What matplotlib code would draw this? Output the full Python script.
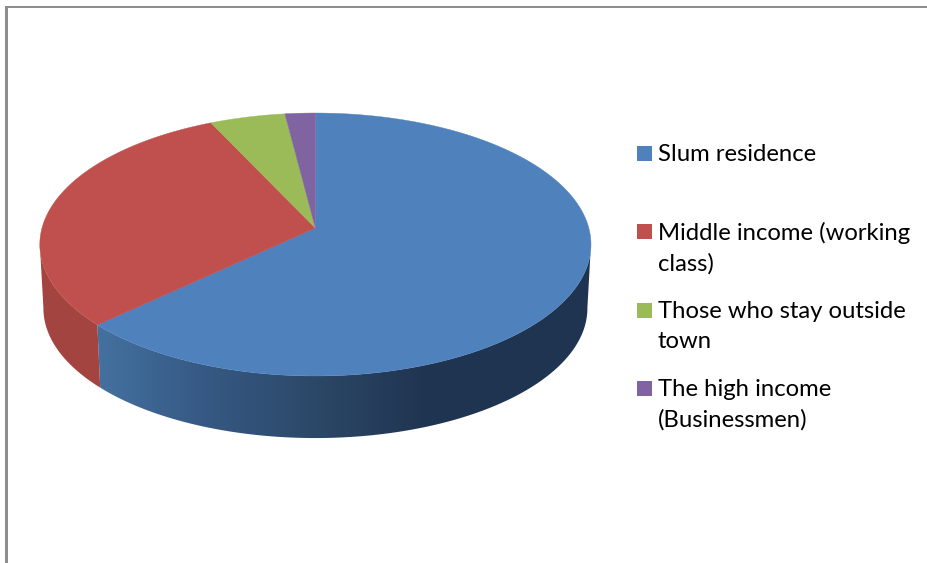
import numpy as np
import matplotlib
matplotlib.use('Agg')
import matplotlib.pyplot as plt
from matplotlib.colors import LinearSegmentedColormap, to_rgb
from matplotlib.patches import Polygon, Rectangle

# Shares of each group (percent)
categories = ['Slum residence', 'Middle income (working\nclass)',
              'Those who stay outside\ntown', 'The high income\n(Businessmen)']
shares = [63, 30, 5, 2]
colors = ['#4F81BD', '#C0504D', '#9BBB59', '#8064A2']

# Pie geometry in pixels
cx, cy = 315.4, 228
radius_x = 273.4
radius_y = 129.4
tilt = 0.1255  # perspective strength
drop = 64  # thickness of the disc
shrink = 0.987  # lower disc looks a little smaller

# Legend layout in pixels
legend_tops = [146, 224, 303, 381]
legend_x = 637
swatch = 15
text_x = 658
font_size = 17.2
line_gap = 1.53

# Blue wall gets darker from left to right
blue_side = LinearSegmentedColormap.from_list(
    'blue_side', [(0, '#44709F'), (0.3, '#365A85'), (0.67, '#2B4766'), (1, '#1F3450')])


def project(theta, lower=False):
    # theta runs clockwise from twelve o'clock, radians
    x = np.sin(theta)
    y = np.cos(theta)
    w = 1 + tilt * y
    px = radius_x * x / w
    py = radius_y * y / w
    if lower:
        return cx + shrink * px, cy + drop - shrink * py
    return cx + px, cy - py


fig = plt.figure(figsize=(9.28, 5.63), dpi=100)
ax = fig.add_axes([0, 0, 1, 1])

edges = np.deg2rad(np.concatenate([[0], np.cumsum(shares)]) * 3.6)

# Side wall: only the front part of the rim can be seen
front_start, front_end = np.deg2rad(97), np.deg2rad(263)
for i, color in enumerate(colors):
    start = max(edges[i], front_start)
    end = min(edges[i + 1], front_end)
    if end <= start:
        continue
    t = np.linspace(start, end, 300)
    top_x, top_y = project(t)
    low_x, low_y = project(t, lower=True)
    wall = np.column_stack([np.r_[top_x, low_x[::-1]], np.r_[top_y, low_y[::-1]]])
    if i == 0:
        patch = Polygon(wall, closed=True, facecolor='none', edgecolor='none')
        ax.add_patch(patch)
        # gradient runs 100..430 px, then stays flat to the right edge
        ramp = np.clip((np.arange(90, 600) - 100) / 330, 0, 1).reshape(1, -1)
        im = ax.imshow(ramp, cmap=blue_side, extent=(90, 600, 450, 230),
                       aspect='auto', zorder=2)
        im.set_clip_path(patch)
    else:
        shade = tuple(np.array(to_rgb(color)) * 0.85)
        ax.add_patch(Polygon(wall, closed=True, facecolor=shade, edgecolor='none', zorder=2))

# Top surface
for i, color in enumerate(colors):
    t = np.linspace(edges[i], edges[i + 1], 300)
    xs, ys = project(t)
    pts = np.column_stack([np.r_[cx, xs], np.r_[cy, ys]])
    ax.add_patch(Polygon(pts, closed=True, facecolor=color, edgecolor=color,
                         linewidth=0.3, zorder=3))

# Legend
for top, color, label in zip(legend_tops, colors, categories):
    ax.add_patch(Rectangle((legend_x, top), swatch, swatch, facecolor=color,
                           edgecolor='none', zorder=4))
    ax.text(text_x, top - 2, label, fontsize=font_size, family='Lato',
            color='black', va='top', ha='left', linespacing=line_gap)

# Frame on the top and left
ax.add_patch(Rectangle((5, 6), 923, 2, facecolor='#8E8E8E', edgecolor='none', zorder=5))
ax.add_patch(Rectangle((5, 6), 3, 557, facecolor='#8E8E8E', edgecolor='none', zorder=5))

ax.set_xlim(0, 928)
ax.set_ylim(563, 0)
ax.axis('off')

fig.savefig('out.png', dpi=100, facecolor='white')
